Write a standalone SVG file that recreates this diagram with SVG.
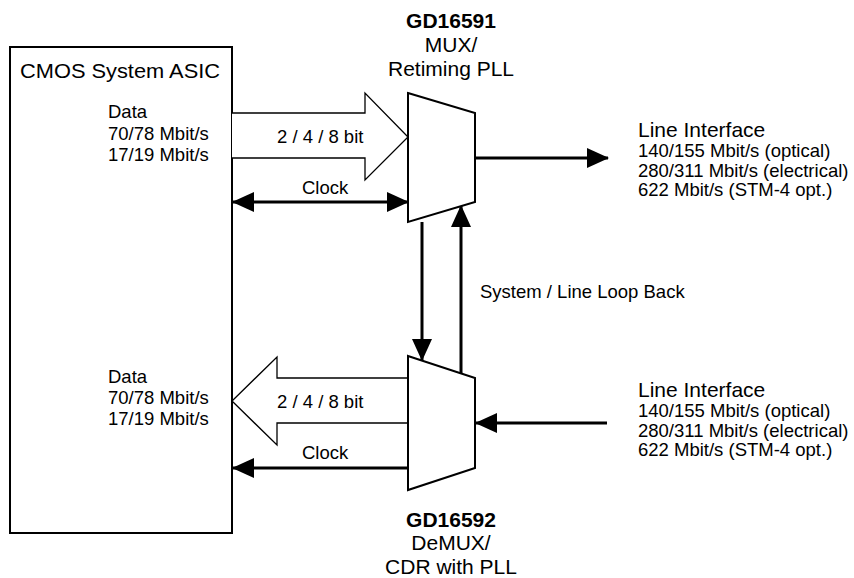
<svg xmlns="http://www.w3.org/2000/svg" width="854" height="578" viewBox="0 0 854 578">
<defs>
<style>
text{font-family:"Liberation Sans",Arial,sans-serif;fill:#000}
.big{font-size:21px}
.sm{font-size:18.5px}
.b{font-weight:bold}
.ln{stroke:#000;stroke-width:3;fill:none}
.sh{stroke:#000;stroke-width:1.3;fill:#fff}
</style>
<marker id="ah" viewBox="0 0 22 20" refX="21" refY="10" markerWidth="22" markerHeight="20" markerUnits="userSpaceOnUse" orient="auto-start-reverse">
<path d="M0,0 L22,10 L0,20 Z" fill="#000"/>
</marker>
</defs>
<rect width="854" height="578" fill="#fff"/>
<g id="asic">
<rect x="10" y="47" width="222" height="486" fill="#fff" stroke="#000" stroke-width="2"/>
<text x="20" y="78" class="big" textLength="200" lengthAdjust="spacingAndGlyphs">CMOS System ASIC</text>
<text x="108" y="118" class="sm">Data</text>
<text x="108" y="140" class="sm">70/78 Mbit/s</text>
<text x="108" y="161" class="sm">17/19 Mbit/s</text>
<text x="108" y="383" class="sm">Data</text>
<text x="108" y="404" class="sm">70/78 Mbit/s</text>
<text x="108" y="425" class="sm">17/19 Mbit/s</text>
</g>
<g id="connectors">
<path class="sh" d="M232,113 L365,113 L365,93 L408,137 L365,180 L365,158 L232,158"/>
<text x="277" y="143" class="sm">2 / 4 / 8 bit</text>
<path class="sh" d="M408,378 L277,378 L277,357 L232,401 L277,445 L277,423 L408,423"/>
<text x="277" y="408" class="sm">2 / 4 / 8 bit</text>
<line class="ln" x1="233" y1="202" x2="408" y2="202" marker-start="url(#ah)" marker-end="url(#ah)"/>
<text x="302" y="194" class="sm">Clock</text>
<line class="ln" x1="408" y1="468" x2="233" y2="468" marker-end="url(#ah)"/>
<text x="302" y="459" class="sm">Clock</text>
<line class="ln" x1="475" y1="158" x2="608" y2="158" marker-end="url(#ah)"/>
<line class="ln" x1="607" y1="423" x2="476" y2="423" marker-end="url(#ah)"/>
<line class="ln" x1="422" y1="222" x2="422" y2="360" marker-end="url(#ah)"/>
<line class="ln" x1="461" y1="373" x2="461" y2="206" marker-end="url(#ah)"/>
<text x="480" y="298" class="sm">System / Line Loop Back</text>
</g>
<g id="mux">
<path d="M408,93 L475,113 L475,202 L408,222 Z" fill="#fff" stroke="#000" stroke-width="2"/>
<text x="451" y="28" class="big b" text-anchor="middle">GD16591</text>
<text x="451" y="52" class="big" text-anchor="middle">MUX/</text>
<text x="451" y="76" class="big" text-anchor="middle">Retiming PLL</text>
</g>
<g id="demux">
<path d="M408,356 L475,378 L475,468 L408,490 Z" fill="#fff" stroke="#000" stroke-width="2"/>
<text x="451" y="527" class="big b" text-anchor="middle">GD16592</text>
<text x="451" y="550" class="big" text-anchor="middle">DeMUX/</text>
<text x="451" y="574" class="big" text-anchor="middle">CDR with PLL</text>
</g>
<g id="line-out">
<text x="638" y="137" class="big">Line Interface</text>
<text x="638" y="157" class="sm">140/155 Mbit/s (optical)</text>
<text x="638" y="177" class="sm">280/311 Mbit/s (electrical)</text>
<text x="638" y="196" class="sm">622 Mbit/s (STM-4 opt.)</text>
</g>
<g id="line-in">
<text x="638" y="397" class="big">Line Interface</text>
<text x="638" y="417" class="sm">140/155 Mbit/s (optical)</text>
<text x="638" y="437" class="sm">280/311 Mbit/s (electrical)</text>
<text x="638" y="456" class="sm">622 Mbit/s (STM-4 opt.)</text>
</g>
</svg>
